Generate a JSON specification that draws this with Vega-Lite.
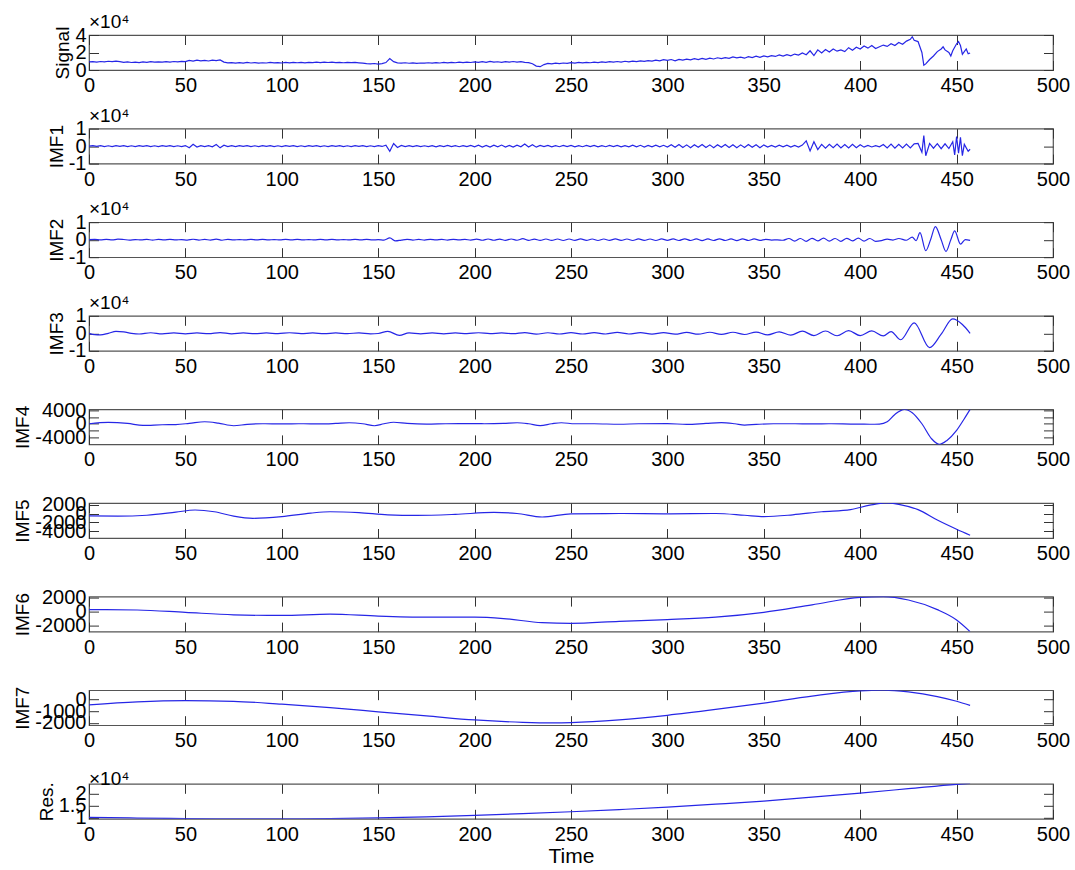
{
"$schema": "https://vega.github.io/schema/vega-lite/v6.json",
"padding": {"left": 13, "top": 12, "right": 5, "bottom": 5},
"spacing": 58.6,
"bounds": "flush",
"config": {
  "view": {"stroke": "#555", "strokeWidth": 1.2},
  "axis": {"domain": false, "grid": false, "tickSize": -9.5, "tickColor": "#333", "tickWidth": 1,
    "labelFont": "Liberation Sans", "labelFontSize": 20, "labelColor": "#000", "labelFlush": false, "labelOverlap": false,
    "titleFont": "Liberation Sans", "titleFontSize": 19, "titleFontWeight": "normal", "titleColor": "#000"},
  "axisX": {"labelPadding": 15, "titlePadding": 1},
  "axisY": {"labelPadding": 12.5, "titlePadding": 2},
  "title": {"font": "Liberation Sans", "fontSize": 19, "fontWeight": "normal", "anchor": "start", "frame": "group", "offset": -7, "color": "#000"}
},
"datasets": {
"signal": [{"t":0,"v":9200},{"t":2,"v":9500},{"t":4,"v":9000},{"t":6,"v":9700},{"t":8,"v":9300},{"t":10,"v":10000},{"t":12,"v":9600},{"t":14,"v":10200},{"t":16,"v":9500},{"t":18,"v":8800},{"t":20,"v":9200},{"t":22,"v":8600},{"t":24,"v":9000},{"t":26,"v":8500},{"t":28,"v":9200},{"t":30,"v":8800},{"t":32,"v":9500},{"t":34,"v":9000},{"t":36,"v":9300},{"t":38,"v":8900},{"t":40,"v":9600},{"t":42,"v":9100},{"t":44,"v":9700},{"t":46,"v":9200},{"t":48,"v":9900},{"t":50,"v":9500},{"t":52,"v":11000},{"t":54,"v":10200},{"t":56,"v":11200},{"t":58,"v":10500},{"t":60,"v":11000},{"t":62,"v":10300},{"t":64,"v":11200},{"t":66,"v":10800},{"t":68,"v":11500},{"t":70,"v":9000},{"t":72,"v":8200},{"t":74,"v":8500},{"t":76,"v":7800},{"t":78,"v":8400},{"t":80,"v":7900},{"t":82,"v":8600},{"t":84,"v":8000},{"t":86,"v":8500},{"t":88,"v":7800},{"t":90,"v":8300},{"t":92,"v":8000},{"t":94,"v":8700},{"t":96,"v":8100},{"t":98,"v":8500},{"t":100,"v":8000},{"t":102,"v":8600},{"t":104,"v":8100},{"t":106,"v":8800},{"t":108,"v":8300},{"t":110,"v":8700},{"t":112,"v":8200},{"t":114,"v":8800},{"t":116,"v":8400},{"t":118,"v":8900},{"t":120,"v":8500},{"t":122,"v":9000},{"t":124,"v":8600},{"t":126,"v":8900},{"t":128,"v":8400},{"t":130,"v":8800},{"t":132,"v":8300},{"t":134,"v":8700},{"t":136,"v":8400},{"t":138,"v":8600},{"t":140,"v":8200},{"t":142,"v":7800},{"t":144,"v":7200},{"t":146,"v":7000},{"t":148,"v":7400},{"t":150,"v":6800},{"t":152,"v":7200},{"t":154,"v":8500},{"t":156,"v":13000},{"t":158,"v":9500},{"t":160,"v":8200},{"t":162,"v":7800},{"t":164,"v":8300},{"t":166,"v":7700},{"t":168,"v":8200},{"t":170,"v":7600},{"t":172,"v":8000},{"t":174,"v":7800},{"t":176,"v":8300},{"t":178,"v":7900},{"t":180,"v":8500},{"t":182,"v":8000},{"t":184,"v":8600},{"t":186,"v":8200},{"t":188,"v":8800},{"t":190,"v":8300},{"t":192,"v":8900},{"t":194,"v":8500},{"t":196,"v":9000},{"t":198,"v":8600},{"t":200,"v":9200},{"t":202,"v":8700},{"t":204,"v":9500},{"t":206,"v":8800},{"t":208,"v":9800},{"t":210,"v":9000},{"t":212,"v":9400},{"t":214,"v":8800},{"t":216,"v":9600},{"t":218,"v":9000},{"t":220,"v":9700},{"t":222,"v":9100},{"t":224,"v":9500},{"t":226,"v":8800},{"t":228,"v":8500},{"t":230,"v":7200},{"t":232,"v":4500},{"t":234,"v":3800},{"t":236,"v":6200},{"t":238,"v":7500},{"t":240,"v":7000},{"t":242,"v":7800},{"t":244,"v":7300},{"t":246,"v":8000},{"t":248,"v":7600},{"t":250,"v":8400},{"t":252,"v":7900},{"t":254,"v":8600},{"t":256,"v":8100},{"t":258,"v":8800},{"t":260,"v":8300},{"t":262,"v":9000},{"t":264,"v":8500},{"t":266,"v":9200},{"t":268,"v":8700},{"t":270,"v":9500},{"t":272,"v":8900},{"t":274,"v":9700},{"t":276,"v":9100},{"t":278,"v":10000},{"t":280,"v":9300},{"t":282,"v":10200},{"t":284,"v":9600},{"t":286,"v":10500},{"t":288,"v":9800},{"t":290,"v":10800},{"t":292,"v":10200},{"t":294,"v":11300},{"t":296,"v":10500},{"t":298,"v":11800},{"t":300,"v":11000},{"t":302,"v":12000},{"t":304,"v":10500},{"t":306,"v":12200},{"t":308,"v":11200},{"t":310,"v":12500},{"t":312,"v":11500},{"t":314,"v":13000},{"t":316,"v":11800},{"t":318,"v":13300},{"t":320,"v":12200},{"t":322,"v":13600},{"t":324,"v":12600},{"t":326,"v":14000},{"t":328,"v":13000},{"t":330,"v":14200},{"t":332,"v":13300},{"t":334,"v":15000},{"t":336,"v":13800},{"t":338,"v":14700},{"t":340,"v":13500},{"t":342,"v":15200},{"t":344,"v":14200},{"t":346,"v":15800},{"t":348,"v":14500},{"t":350,"v":16200},{"t":352,"v":15000},{"t":354,"v":16500},{"t":356,"v":15500},{"t":358,"v":17200},{"t":360,"v":15800},{"t":362,"v":17500},{"t":364,"v":16200},{"t":366,"v":18200},{"t":368,"v":17000},{"t":370,"v":19500},{"t":372,"v":17500},{"t":374,"v":22000},{"t":376,"v":16500},{"t":378,"v":23000},{"t":380,"v":19500},{"t":382,"v":23500},{"t":384,"v":20500},{"t":386,"v":24000},{"t":388,"v":21500},{"t":390,"v":23000},{"t":392,"v":21000},{"t":394,"v":25500},{"t":396,"v":22500},{"t":398,"v":26000},{"t":400,"v":24000},{"t":402,"v":27500},{"t":404,"v":25000},{"t":406,"v":28000},{"t":408,"v":24500},{"t":410,"v":26500},{"t":412,"v":28500},{"t":414,"v":27000},{"t":416,"v":30000},{"t":418,"v":28000},{"t":420,"v":31500},{"t":422,"v":29500},{"t":424,"v":33000},{"t":426,"v":35000},{"t":427,"v":38000},{"t":428,"v":34000},{"t":430,"v":32500},{"t":432,"v":20000},{"t":433,"v":5500},{"t":434,"v":7000},{"t":436,"v":12000},{"t":438,"v":16000},{"t":440,"v":21000},{"t":442,"v":24000},{"t":443,"v":26500},{"t":444,"v":23000},{"t":446,"v":20000},{"t":447,"v":16000},{"t":448,"v":22000},{"t":450,"v":30000},{"t":451,"v":32500},{"t":452,"v":28000},{"t":453,"v":18000},{"t":454,"v":21000},{"t":455,"v":24000},{"t":456,"v":18500},{"t":457,"v":19500}],
"imf1": [{"t":0,"v":0},{"t":2,"v":250},{"t":4,"v":-200},{"t":6,"v":300},{"t":8,"v":-250},{"t":10,"v":200},{"t":12,"v":-300},{"t":14,"v":250},{"t":16,"v":-150},{"t":18,"v":300},{"t":20,"v":-250},{"t":22,"v":200},{"t":24,"v":-300},{"t":26,"v":250},{"t":28,"v":-200},{"t":30,"v":300},{"t":32,"v":-250},{"t":34,"v":200},{"t":36,"v":-300},{"t":38,"v":250},{"t":40,"v":-200},{"t":42,"v":300},{"t":44,"v":-250},{"t":46,"v":200},{"t":48,"v":-300},{"t":50,"v":300},{"t":52,"v":-900},{"t":54,"v":1000},{"t":56,"v":-500},{"t":58,"v":300},{"t":60,"v":-300},{"t":62,"v":250},{"t":64,"v":-400},{"t":66,"v":900},{"t":68,"v":-1000},{"t":70,"v":500},{"t":72,"v":-300},{"t":74,"v":250},{"t":76,"v":-250},{"t":78,"v":300},{"t":80,"v":-200},{"t":82,"v":250},{"t":84,"v":-300},{"t":86,"v":200},{"t":88,"v":-250},{"t":90,"v":300},{"t":92,"v":-200},{"t":94,"v":250},{"t":96,"v":-300},{"t":98,"v":200},{"t":100,"v":-250},{"t":102,"v":300},{"t":104,"v":-200},{"t":106,"v":250},{"t":108,"v":-300},{"t":110,"v":200},{"t":112,"v":-250},{"t":114,"v":300},{"t":116,"v":-200},{"t":118,"v":250},{"t":120,"v":-300},{"t":122,"v":200},{"t":124,"v":-250},{"t":126,"v":300},{"t":128,"v":-200},{"t":130,"v":250},{"t":132,"v":-300},{"t":134,"v":200},{"t":136,"v":-250},{"t":138,"v":300},{"t":140,"v":-200},{"t":142,"v":250},{"t":144,"v":-300},{"t":146,"v":200},{"t":148,"v":-250},{"t":150,"v":300},{"t":152,"v":-200},{"t":154,"v":500},{"t":156,"v":-3000},{"t":158,"v":1500},{"t":160,"v":-800},{"t":162,"v":400},{"t":164,"v":-300},{"t":166,"v":250},{"t":168,"v":-300},{"t":170,"v":300},{"t":172,"v":-250},{"t":174,"v":200},{"t":176,"v":-300},{"t":178,"v":300},{"t":180,"v":-400},{"t":182,"v":300},{"t":184,"v":-250},{"t":186,"v":400},{"t":188,"v":-300},{"t":190,"v":250},{"t":192,"v":-350},{"t":194,"v":300},{"t":196,"v":-250},{"t":198,"v":400},{"t":200,"v":-400},{"t":202,"v":500},{"t":204,"v":-500},{"t":206,"v":400},{"t":208,"v":-600},{"t":210,"v":500},{"t":212,"v":-400},{"t":214,"v":600},{"t":216,"v":-500},{"t":218,"v":400},{"t":220,"v":-600},{"t":222,"v":500},{"t":224,"v":-400},{"t":226,"v":1200},{"t":228,"v":-500},{"t":230,"v":800},{"t":232,"v":-600},{"t":234,"v":400},{"t":236,"v":-300},{"t":238,"v":400},{"t":240,"v":-400},{"t":242,"v":300},{"t":244,"v":-350},{"t":246,"v":400},{"t":248,"v":-300},{"t":250,"v":350},{"t":252,"v":-400},{"t":254,"v":300},{"t":256,"v":-350},{"t":258,"v":400},{"t":260,"v":-300},{"t":262,"v":350},{"t":264,"v":-400},{"t":266,"v":300},{"t":268,"v":-350},{"t":270,"v":400},{"t":272,"v":-300},{"t":274,"v":350},{"t":276,"v":-400},{"t":278,"v":300},{"t":280,"v":-450},{"t":282,"v":500},{"t":284,"v":-400},{"t":286,"v":450},{"t":288,"v":-500},{"t":290,"v":400},{"t":292,"v":-450},{"t":294,"v":500},{"t":296,"v":-400},{"t":298,"v":450},{"t":300,"v":-500},{"t":302,"v":800},{"t":304,"v":-700},{"t":306,"v":900},{"t":308,"v":-800},{"t":310,"v":700},{"t":312,"v":-900},{"t":314,"v":800},{"t":316,"v":-700},{"t":318,"v":900},{"t":320,"v":-800},{"t":322,"v":700},{"t":324,"v":-900},{"t":326,"v":800},{"t":328,"v":-700},{"t":330,"v":900},{"t":332,"v":-800},{"t":334,"v":800},{"t":336,"v":-900},{"t":338,"v":700},{"t":340,"v":-800},{"t":342,"v":900},{"t":344,"v":-700},{"t":346,"v":800},{"t":348,"v":-900},{"t":350,"v":700},{"t":352,"v":-500},{"t":354,"v":400},{"t":356,"v":-500},{"t":358,"v":500},{"t":360,"v":-400},{"t":362,"v":500},{"t":364,"v":-500},{"t":366,"v":400},{"t":368,"v":-500},{"t":370,"v":600},{"t":372,"v":3000},{"t":374,"v":-2800},{"t":376,"v":2500},{"t":378,"v":-2000},{"t":380,"v":1000},{"t":382,"v":-1200},{"t":384,"v":1000},{"t":386,"v":-900},{"t":388,"v":1100},{"t":390,"v":-1000},{"t":392,"v":900},{"t":394,"v":-1100},{"t":396,"v":1000},{"t":398,"v":-900},{"t":400,"v":800},{"t":402,"v":-600},{"t":404,"v":400},{"t":406,"v":-500},{"t":408,"v":300},{"t":410,"v":-400},{"t":412,"v":900},{"t":414,"v":-1000},{"t":416,"v":1100},{"t":418,"v":-1200},{"t":420,"v":1000},{"t":422,"v":-1100},{"t":424,"v":1200},{"t":426,"v":-1000},{"t":428,"v":1300},{"t":430,"v":1500},{"t":432,"v":-3500},{"t":433,"v":6000},{"t":434,"v":-5500},{"t":436,"v":1500},{"t":438,"v":-1200},{"t":440,"v":1400},{"t":442,"v":-1500},{"t":444,"v":1300},{"t":446,"v":-1400},{"t":448,"v":2500},{"t":449,"v":-5000},{"t":450,"v":5500},{"t":451,"v":-4000},{"t":452,"v":5000},{"t":453,"v":-5500},{"t":454,"v":1000},{"t":456,"v":-3000},{"t":457,"v":-1800}],
"imf2": [{"t":0,"v":0},{"t":3,"v":150},{"t":6,"v":-100},{"t":9,"v":150},{"t":12,"v":-150},{"t":15,"v":300},{"t":18,"v":100},{"t":21,"v":-200},{"t":24,"v":100},{"t":27,"v":-150},{"t":30,"v":150},{"t":33,"v":-200},{"t":36,"v":150},{"t":39,"v":-100},{"t":42,"v":200},{"t":45,"v":-150},{"t":48,"v":100},{"t":51,"v":-200},{"t":54,"v":250},{"t":57,"v":-200},{"t":60,"v":150},{"t":63,"v":-200},{"t":66,"v":300},{"t":69,"v":-300},{"t":72,"v":200},{"t":75,"v":-150},{"t":78,"v":100},{"t":81,"v":-150},{"t":84,"v":150},{"t":87,"v":-100},{"t":90,"v":150},{"t":93,"v":-150},{"t":96,"v":100},{"t":99,"v":-150},{"t":102,"v":150},{"t":105,"v":-100},{"t":108,"v":150},{"t":111,"v":-150},{"t":114,"v":100},{"t":117,"v":-150},{"t":120,"v":150},{"t":123,"v":-100},{"t":126,"v":150},{"t":129,"v":-150},{"t":132,"v":100},{"t":135,"v":-150},{"t":138,"v":150},{"t":141,"v":-100},{"t":144,"v":150},{"t":147,"v":-150},{"t":150,"v":0},{"t":153,"v":-200},{"t":156,"v":1000},{"t":159,"v":-700},{"t":162,"v":-200},{"t":165,"v":200},{"t":168,"v":-200},{"t":171,"v":150},{"t":174,"v":-200},{"t":177,"v":200},{"t":180,"v":-150},{"t":183,"v":150},{"t":186,"v":-200},{"t":189,"v":200},{"t":192,"v":-150},{"t":195,"v":200},{"t":198,"v":-250},{"t":201,"v":300},{"t":204,"v":-300},{"t":207,"v":400},{"t":210,"v":-300},{"t":213,"v":300},{"t":216,"v":-350},{"t":219,"v":400},{"t":222,"v":-300},{"t":225,"v":600},{"t":228,"v":-400},{"t":231,"v":300},{"t":234,"v":-400},{"t":237,"v":400},{"t":240,"v":-400},{"t":243,"v":400},{"t":246,"v":-450},{"t":249,"v":400},{"t":252,"v":-400},{"t":255,"v":450},{"t":258,"v":-400},{"t":261,"v":400},{"t":264,"v":-450},{"t":267,"v":400},{"t":270,"v":-400},{"t":273,"v":450},{"t":276,"v":-400},{"t":279,"v":400},{"t":282,"v":-450},{"t":285,"v":450},{"t":288,"v":-400},{"t":291,"v":400},{"t":294,"v":-450},{"t":297,"v":450},{"t":300,"v":-400},{"t":303,"v":450},{"t":306,"v":-450},{"t":309,"v":500},{"t":312,"v":-450},{"t":315,"v":450},{"t":318,"v":-500},{"t":321,"v":450},{"t":324,"v":-450},{"t":327,"v":500},{"t":330,"v":-450},{"t":333,"v":450},{"t":336,"v":-500},{"t":339,"v":500},{"t":342,"v":-450},{"t":345,"v":450},{"t":348,"v":-400},{"t":351,"v":200},{"t":354,"v":-200},{"t":357,"v":-100},{"t":360,"v":-300},{"t":363,"v":700},{"t":366,"v":-800},{"t":369,"v":700},{"t":372,"v":-900},{"t":375,"v":800},{"t":378,"v":-700},{"t":381,"v":900},{"t":384,"v":-800},{"t":387,"v":700},{"t":390,"v":-900},{"t":393,"v":800},{"t":396,"v":-700},{"t":399,"v":900},{"t":402,"v":-800},{"t":405,"v":700},{"t":408,"v":-900},{"t":411,"v":-500},{"t":414,"v":300},{"t":417,"v":-200},{"t":420,"v":700},{"t":424,"v":-300},{"t":427,"v":1500},{"t":429,"v":-500},{"t":431,"v":4000},{"t":434,"v":-6300},{"t":436.5,"v":0},{"t":439,"v":7500},{"t":442,"v":0},{"t":444.5,"v":-6700},{"t":447,"v":0},{"t":449,"v":5000},{"t":452,"v":-2500},{"t":454.5,"v":100},{"t":457,"v":-400}],
"imf3": [{"t":0,"v":0},{"t":3,"v":-800},{"t":6,"v":-900},{"t":10,"v":0},{"t":14,"v":1100},{"t":18,"v":800},{"t":22,"v":0},{"t":26,"v":-400},{"t":32,"v":300},{"t":38,"v":-300},{"t":44,"v":200},{"t":50,"v":-300},{"t":56,"v":200},{"t":62,"v":-200},{"t":68,"v":400},{"t":74,"v":-300},{"t":80,"v":200},{"t":86,"v":-200},{"t":92,"v":200},{"t":98,"v":-200},{"t":104,"v":300},{"t":110,"v":-200},{"t":116,"v":200},{"t":122,"v":-200},{"t":128,"v":200},{"t":134,"v":-200},{"t":140,"v":250},{"t":146,"v":-300},{"t":150,"v":-100},{"t":155,"v":1100},{"t":161,"v":-1200},{"t":166,"v":200},{"t":172,"v":-300},{"t":178,"v":200},{"t":184,"v":-300},{"t":190,"v":200},{"t":196,"v":-200},{"t":202,"v":300},{"t":208,"v":-200},{"t":214,"v":200},{"t":220,"v":-200},{"t":226,"v":400},{"t":232,"v":-500},{"t":238,"v":300},{"t":244,"v":-400},{"t":250,"v":400},{"t":256,"v":-400},{"t":262,"v":400},{"t":268,"v":-400},{"t":274,"v":500},{"t":280,"v":-400},{"t":286,"v":400},{"t":292,"v":-500},{"t":298,"v":400},{"t":304,"v":-500},{"t":310,"v":500},{"t":316,"v":-500},{"t":322,"v":600},{"t":328,"v":-600},{"t":334,"v":600},{"t":340,"v":-700},{"t":346,"v":700},{"t":352,"v":-900},{"t":358,"v":800},{"t":364,"v":-1000},{"t":370,"v":1200},{"t":376,"v":-1300},{"t":382,"v":1300},{"t":388,"v":-1400},{"t":394,"v":1500},{"t":400,"v":-1300},{"t":406,"v":1400},{"t":412,"v":-1500},{"t":416,"v":1000},{"t":421,"v":-3700},{"t":428,"v":6000},{"t":436,"v":-8200},{"t":442,"v":-500},{"t":448,"v":8200},{"t":453,"v":5000},{"t":457,"v":0}],
"imf4": [{"t":0,"v":0},{"t":10,"v":400},{"t":20,"v":100},{"t":28,"v":-500},{"t":38,"v":-300},{"t":45,"v":-250},{"t":52,"v":100},{"t":60,"v":600},{"t":67,"v":200},{"t":75,"v":-600},{"t":82,"v":-200},{"t":90,"v":0},{"t":100,"v":-50},{"t":110,"v":0},{"t":120,"v":-50},{"t":128,"v":100},{"t":135,"v":300},{"t":142,"v":0},{"t":148,"v":-600},{"t":153,"v":0},{"t":158,"v":450},{"t":165,"v":100},{"t":175,"v":-100},{"t":185,"v":0},{"t":195,"v":50},{"t":205,"v":0},{"t":215,"v":100},{"t":222,"v":300},{"t":228,"v":0},{"t":234,"v":-550},{"t":240,"v":0},{"t":245,"v":300},{"t":252,"v":0},{"t":262,"v":0},{"t":275,"v":-150},{"t":285,"v":0},{"t":300,"v":50},{"t":310,"v":-200},{"t":320,"v":100},{"t":328,"v":350},{"t":335,"v":0},{"t":340,"v":-400},{"t":346,"v":-200},{"t":355,"v":0},{"t":365,"v":0},{"t":375,"v":-50},{"t":385,"v":0},{"t":395,"v":-100},{"t":405,"v":-150},{"t":410,"v":-100},{"t":414,"v":600},{"t":418,"v":2800},{"t":423,"v":4300},{"t":427,"v":3300},{"t":432,"v":0},{"t":437,"v":-4500},{"t":441,"v":-6200},{"t":445,"v":-5000},{"t":450,"v":-2000},{"t":454,"v":1500},{"t":457,"v":4300}],
"imf5": [{"t":0,"v":-560},{"t":15,"v":-600},{"t":30,"v":-400},{"t":45,"v":300},{"t":55,"v":800},{"t":65,"v":400},{"t":75,"v":-600},{"t":85,"v":-1100},{"t":100,"v":-700},{"t":115,"v":100},{"t":125,"v":400},{"t":140,"v":200},{"t":155,"v":-300},{"t":170,"v":-440},{"t":190,"v":-200},{"t":210,"v":240},{"t":222,"v":0},{"t":235,"v":-800},{"t":250,"v":-80},{"t":275,"v":0},{"t":300,"v":-80},{"t":325,"v":0},{"t":340,"v":-400},{"t":350,"v":-720},{"t":365,"v":-300},{"t":380,"v":400},{"t":395,"v":900},{"t":405,"v":1900},{"t":413,"v":2400},{"t":420,"v":2100},{"t":430,"v":880},{"t":440,"v":-1500},{"t":450,"v":-3600},{"t":457,"v":-4960}],
"imf6": [{"t":0,"v":300},{"t":25,"v":250},{"t":50,"v":-100},{"t":75,"v":-450},{"t":100,"v":-550},{"t":125,"v":-350},{"t":150,"v":-650},{"t":175,"v":-800},{"t":200,"v":-800},{"t":215,"v":-1000},{"t":235,"v":-1600},{"t":250,"v":-1700},{"t":275,"v":-1400},{"t":300,"v":-1150},{"t":325,"v":-800},{"t":350,"v":-100},{"t":375,"v":1000},{"t":400,"v":2100},{"t":412,"v":2200},{"t":425,"v":1700},{"t":440,"v":300},{"t":450,"v":-1200},{"t":457,"v":-2900}],
"imf7": [{"t":0,"v":-450},{"t":25,"v":-200},{"t":50,"v":-100},{"t":75,"v":-150},{"t":100,"v":-400},{"t":125,"v":-700},{"t":150,"v":-1050},{"t":175,"v":-1400},{"t":200,"v":-1750},{"t":225,"v":-1950},{"t":240,"v":-2000},{"t":250,"v":-1980},{"t":275,"v":-1750},{"t":300,"v":-1350},{"t":325,"v":-850},{"t":350,"v":-300},{"t":375,"v":300},{"t":400,"v":750},{"t":412,"v":800},{"t":425,"v":650},{"t":440,"v":250},{"t":450,"v":-150},{"t":457,"v":-500}],
"res": [{"t":0,"v":10200},{"t":25,"v":9900},{"t":50,"v":9700},{"t":75,"v":9600},{"t":100,"v":9600},{"t":125,"v":9700},{"t":150,"v":10000},{"t":175,"v":10400},{"t":200,"v":11000},{"t":225,"v":11700},{"t":250,"v":12500},{"t":275,"v":13400},{"t":300,"v":14400},{"t":325,"v":15600},{"t":350,"v":16900},{"t":375,"v":18500},{"t":400,"v":20200},{"t":425,"v":22000},{"t":450,"v":23800},{"t":457,"v":24200}]
},
"vconcat": [
{"data": {"name": "signal"}, "width": 964, "height": 35, "title": "×10⁴",
 "layer": [
  {"mark": {"type": "line", "color": "#2626e6", "strokeWidth": 1.2, "clip": true},
   "encoding": {"x": {"field": "t", "type": "quantitative", "scale": {"domain": [0, 500], "nice": false, "zero": false}, "axis": {"orient": "bottom", "values": [0,50,100,150,200,250,300,350,400,450,500], "title": null}},
                "y": {"field": "v", "type": "quantitative", "scale": {"domain": [0, 40000], "nice": false, "zero": false}, "axis": {"orient": "left", "values": [0,20000,40000], "title": "Signal", "labelExpr": "'' + datum.value/10000"}}}},
  {"mark": {"type": "line", "opacity": 0},
   "encoding": {"x": {"field": "t", "type": "quantitative", "scale": {"domain": [0, 500], "nice": false, "zero": false}, "axis": {"orient": "top", "values": [0,50,100,150,200,250,300,350,400,450,500], "labels": false, "title": null}},
                "y": {"field": "v", "type": "quantitative", "scale": {"domain": [0, 40000], "nice": false, "zero": false}, "axis": {"orient": "right", "values": [0,20000,40000], "labels": false, "title": null}}}}
 ]},
{"data": {"name": "imf1"}, "width": 964, "height": 35, "title": "×10⁴",
 "layer": [
  {"mark": {"type": "line", "color": "#2626e6", "strokeWidth": 1.2, "clip": true},
   "encoding": {"x": {"field": "t", "type": "quantitative", "scale": {"domain": [0, 500], "nice": false, "zero": false}, "axis": {"orient": "bottom", "values": [0,50,100,150,200,250,300,350,400,450,500], "title": null}},
                "y": {"field": "v", "type": "quantitative", "scale": {"domain": [-10000, 10000], "nice": false, "zero": false}, "axis": {"orient": "left", "values": [-10000,0,10000], "title": "IMF1", "labelExpr": "'' + datum.value/10000"}}}},
  {"mark": {"type": "line", "opacity": 0},
   "encoding": {"x": {"field": "t", "type": "quantitative", "scale": {"domain": [0, 500], "nice": false, "zero": false}, "axis": {"orient": "top", "values": [0,50,100,150,200,250,300,350,400,450,500], "labels": false, "title": null}},
                "y": {"field": "v", "type": "quantitative", "scale": {"domain": [-10000, 10000], "nice": false, "zero": false}, "axis": {"orient": "right", "values": [-10000,0,10000], "labels": false, "title": null}}}}
 ]},
{"data": {"name": "imf2"}, "width": 964, "height": 35, "title": "×10⁴",
 "layer": [
  {"mark": {"type": "line", "color": "#2626e6", "strokeWidth": 1.2, "clip": true, "interpolate": "monotone"},
   "encoding": {"x": {"field": "t", "type": "quantitative", "scale": {"domain": [0, 500], "nice": false, "zero": false}, "axis": {"orient": "bottom", "values": [0,50,100,150,200,250,300,350,400,450,500], "title": null}},
                "y": {"field": "v", "type": "quantitative", "scale": {"domain": [-10000, 10000], "nice": false, "zero": false}, "axis": {"orient": "left", "values": [-10000,0,10000], "title": "IMF2", "labelExpr": "'' + datum.value/10000"}}}},
  {"mark": {"type": "line", "opacity": 0},
   "encoding": {"x": {"field": "t", "type": "quantitative", "scale": {"domain": [0, 500], "nice": false, "zero": false}, "axis": {"orient": "top", "values": [0,50,100,150,200,250,300,350,400,450,500], "labels": false, "title": null}},
                "y": {"field": "v", "type": "quantitative", "scale": {"domain": [-10000, 10000], "nice": false, "zero": false}, "axis": {"orient": "right", "values": [-10000,0,10000], "labels": false, "title": null}}}}
 ]},
{"data": {"name": "imf3"}, "width": 964, "height": 35, "title": "×10⁴",
 "layer": [
  {"mark": {"type": "line", "color": "#2626e6", "strokeWidth": 1.2, "clip": true, "interpolate": "monotone"},
   "encoding": {"x": {"field": "t", "type": "quantitative", "scale": {"domain": [0, 500], "nice": false, "zero": false}, "axis": {"orient": "bottom", "values": [0,50,100,150,200,250,300,350,400,450,500], "title": null}},
                "y": {"field": "v", "type": "quantitative", "scale": {"domain": [-10000, 10000], "nice": false, "zero": false}, "axis": {"orient": "left", "values": [-10000,0,10000], "title": "IMF3", "labelExpr": "'' + datum.value/10000"}}}},
  {"mark": {"type": "line", "opacity": 0},
   "encoding": {"x": {"field": "t", "type": "quantitative", "scale": {"domain": [0, 500], "nice": false, "zero": false}, "axis": {"orient": "top", "values": [0,50,100,150,200,250,300,350,400,450,500], "labels": false, "title": null}},
                "y": {"field": "v", "type": "quantitative", "scale": {"domain": [-10000, 10000], "nice": false, "zero": false}, "axis": {"orient": "right", "values": [-10000,0,10000], "labels": false, "title": null}}}}
 ]},
{"data": {"name": "imf4"}, "width": 964, "height": 35,
 "layer": [
  {"mark": {"type": "line", "color": "#2626e6", "strokeWidth": 1.2, "clip": true, "interpolate": "monotone"},
   "encoding": {"x": {"field": "t", "type": "quantitative", "scale": {"domain": [0, 500], "nice": false, "zero": false}, "axis": {"orient": "bottom", "values": [0,50,100,150,200,250,300,350,400,450,500], "title": null}},
                "y": {"field": "v", "type": "quantitative", "scale": {"domain": [-6200, 4300], "nice": false, "zero": false}, "axis": {"orient": "left", "values": [-4000,-2000,0,2000,4000], "title": "IMF4", "labelExpr": "abs(datum.value) == 2000 ? '' : '' + datum.value"}}}},
  {"mark": {"type": "line", "opacity": 0},
   "encoding": {"x": {"field": "t", "type": "quantitative", "scale": {"domain": [0, 500], "nice": false, "zero": false}, "axis": {"orient": "top", "values": [0,50,100,150,200,250,300,350,400,450,500], "labels": false, "title": null}},
                "y": {"field": "v", "type": "quantitative", "scale": {"domain": [-6200, 4300], "nice": false, "zero": false}, "axis": {"orient": "right", "values": [-4000,-2000,0,2000,4000], "labels": false, "title": null}}}}
 ]},
{"data": {"name": "imf5"}, "width": 964, "height": 35,
 "layer": [
  {"mark": {"type": "line", "color": "#2626e6", "strokeWidth": 1.2, "clip": true, "interpolate": "monotone"},
   "encoding": {"x": {"field": "t", "type": "quantitative", "scale": {"domain": [0, 500], "nice": false, "zero": false}, "axis": {"orient": "bottom", "values": [0,50,100,150,200,250,300,350,400,450,500], "title": null}},
                "y": {"field": "v", "type": "quantitative", "scale": {"domain": [-5600, 2400], "nice": false, "zero": false}, "axis": {"orient": "left", "values": [-4000,-2000,0,2000], "title": "IMF5", "labelExpr": "'' + datum.value"}}}},
  {"mark": {"type": "line", "opacity": 0},
   "encoding": {"x": {"field": "t", "type": "quantitative", "scale": {"domain": [0, 500], "nice": false, "zero": false}, "axis": {"orient": "top", "values": [0,50,100,150,200,250,300,350,400,450,500], "labels": false, "title": null}},
                "y": {"field": "v", "type": "quantitative", "scale": {"domain": [-5600, 2400], "nice": false, "zero": false}, "axis": {"orient": "right", "values": [-4000,-2000,0,2000], "labels": false, "title": null}}}}
 ]},
{"data": {"name": "imf6"}, "width": 964, "height": 35,
 "layer": [
  {"mark": {"type": "line", "color": "#2626e6", "strokeWidth": 1.2, "clip": true, "interpolate": "monotone"},
   "encoding": {"x": {"field": "t", "type": "quantitative", "scale": {"domain": [0, 500], "nice": false, "zero": false}, "axis": {"orient": "bottom", "values": [0,50,100,150,200,250,300,350,400,450,500], "title": null}},
                "y": {"field": "v", "type": "quantitative", "scale": {"domain": [-2900, 2200], "nice": false, "zero": false}, "axis": {"orient": "left", "values": [-2000,0,2000], "title": "IMF6", "labelExpr": "'' + datum.value"}}}},
  {"mark": {"type": "line", "opacity": 0},
   "encoding": {"x": {"field": "t", "type": "quantitative", "scale": {"domain": [0, 500], "nice": false, "zero": false}, "axis": {"orient": "top", "values": [0,50,100,150,200,250,300,350,400,450,500], "labels": false, "title": null}},
                "y": {"field": "v", "type": "quantitative", "scale": {"domain": [-2900, 2200], "nice": false, "zero": false}, "axis": {"orient": "right", "values": [-2000,0,2000], "labels": false, "title": null}}}}
 ]},
{"data": {"name": "imf7"}, "width": 964, "height": 35,
 "layer": [
  {"mark": {"type": "line", "color": "#2626e6", "strokeWidth": 1.2, "clip": true, "interpolate": "monotone"},
   "encoding": {"x": {"field": "t", "type": "quantitative", "scale": {"domain": [0, 500], "nice": false, "zero": false}, "axis": {"orient": "bottom", "values": [0,50,100,150,200,250,300,350,400,450,500], "title": null}},
                "y": {"field": "v", "type": "quantitative", "scale": {"domain": [-2200, 800], "nice": false, "zero": false}, "axis": {"orient": "left", "values": [-2000,-1000,0], "title": "IMF7", "labelExpr": "'' + datum.value"}}}},
  {"mark": {"type": "line", "opacity": 0},
   "encoding": {"x": {"field": "t", "type": "quantitative", "scale": {"domain": [0, 500], "nice": false, "zero": false}, "axis": {"orient": "top", "values": [0,50,100,150,200,250,300,350,400,450,500], "labels": false, "title": null}},
                "y": {"field": "v", "type": "quantitative", "scale": {"domain": [-2200, 800], "nice": false, "zero": false}, "axis": {"orient": "right", "values": [-2000,-1000,0], "labels": false, "title": null}}}}
 ]},
{"data": {"name": "res"}, "width": 964, "height": 35, "title": "×10⁴",
 "layer": [
  {"mark": {"type": "line", "color": "#2626e6", "strokeWidth": 1.2, "clip": true, "interpolate": "monotone"},
   "encoding": {"x": {"field": "t", "type": "quantitative", "scale": {"domain": [0, 500], "nice": false, "zero": false}, "axis": {"orient": "bottom", "values": [0,50,100,150,200,250,300,350,400,450,500], "title": "Time", "titleFontSize": 21}},
                "y": {"field": "v", "type": "quantitative", "scale": {"domain": [9600, 24000], "nice": false, "zero": false}, "axis": {"orient": "left", "values": [10000,15000,20000], "title": "Res.", "labelExpr": "'' + datum.value/10000"}}}},
  {"mark": {"type": "line", "opacity": 0},
   "encoding": {"x": {"field": "t", "type": "quantitative", "scale": {"domain": [0, 500], "nice": false, "zero": false}, "axis": {"orient": "top", "values": [0,50,100,150,200,250,300,350,400,450,500], "labels": false, "title": null}},
                "y": {"field": "v", "type": "quantitative", "scale": {"domain": [9600, 24000], "nice": false, "zero": false}, "axis": {"orient": "right", "values": [10000,15000,20000], "labels": false, "title": null}}}}
 ]}
]
}
